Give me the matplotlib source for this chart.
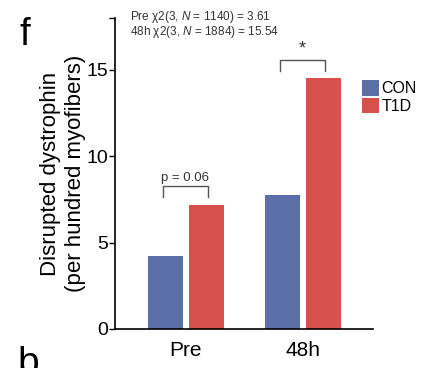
import matplotlib
matplotlib.use('Agg')
import matplotlib.pyplot as plt
import numpy as np

plt.rcParams['font.family'] = ['Liberation Sans', 'DejaVu Sans']
plt.rcParams['mathtext.fontset'] = 'custom'
plt.rcParams['mathtext.rm'] = 'Liberation Sans'
plt.rcParams['mathtext.it'] = 'Liberation Sans:italic'

# data
groups = ['Pre', '48h']
con = [4.2, 7.75]
t1d = [7.2, 14.5]
stats_lines = [r'Pre χ2(3, $\it{N}$ = 1140) = 3.61',
               r'48h χ2(3, $\it{N}$ = 1884) = 15.54']
sig_labels = ['p = 0.06', '*']

c_con = '#5b6ea6'
c_t1d = '#d8504c'

fig = plt.figure(figsize=(4.27, 3.68), dpi=100)
ax = fig.add_axes([0.269, 0.106, 0.605, 0.845])

x = np.arange(len(groups))
w = 0.3
off = 0.175
ax.bar(x - off, con, w, color=c_con, label='CON')
ax.bar(x + off, t1d, w, color=c_t1d, label='T1D')

# significance brackets
for i in range(len(groups)):
    top = max(con[i], t1d[i])
    y0 = top + 0.45
    y1 = y0 + 0.6
    x0, x1 = x[i] - off - 0.02, x[i] + off + 0.01
    ax.plot([x0, x0, x1, x1], [y0, y1, y1, y0], color='#555555', lw=1)
    ax.text((x0 + x1) / 2, y1 + 0.15, sig_labels[i], ha='center', va='bottom',
            fontsize=9.5 if i == 0 else 13, color='#333333')

ax.set_xlim(-0.607, 1.6)
ax.set_ylim(0, 18)
ax.set_xticks(x)
ax.set_xticklabels(groups, fontsize=15)
ax.tick_params(axis='x', length=0, pad=9)
ax.set_yticks([0, 5, 10, 15])
ax.set_yticks([18], minor=True)
ax.tick_params(axis='y', labelsize=14, length=4, width=1, pad=1)
ax.tick_params(axis='y', which='minor', length=4, width=1)
ax.spines['top'].set_visible(False)
ax.spines['right'].set_visible(False)
ax.spines['left'].set_linewidth(1.2)
ax.spines['bottom'].set_linewidth(1.2)
ax.set_ylabel('Disrupted dystrophin\n(per hundred myofibers)', fontsize=16,
              labelpad=0, linespacing=1.25)

ax.legend(loc='upper left', bbox_to_anchor=(0.93, 0.82), frameon=False,
          fontsize=11.5, handlelength=1.1, handleheight=1.1, handletextpad=0.15,
          labelspacing=0.1, borderaxespad=0)

fig.text(0.305, 0.953, stats_lines[0], fontsize=8.5, va='center', color='#333333')
fig.text(0.305, 0.912, stats_lines[1], fontsize=8.5, va='center', color='#333333')
fig.text(0.045, 0.905, 'f', fontsize=28, va='center', ha='left')
fig.text(0.04, 0.06, 'b', fontsize=28, va='top', ha='left')

fig.savefig('out.png', dpi=100)
